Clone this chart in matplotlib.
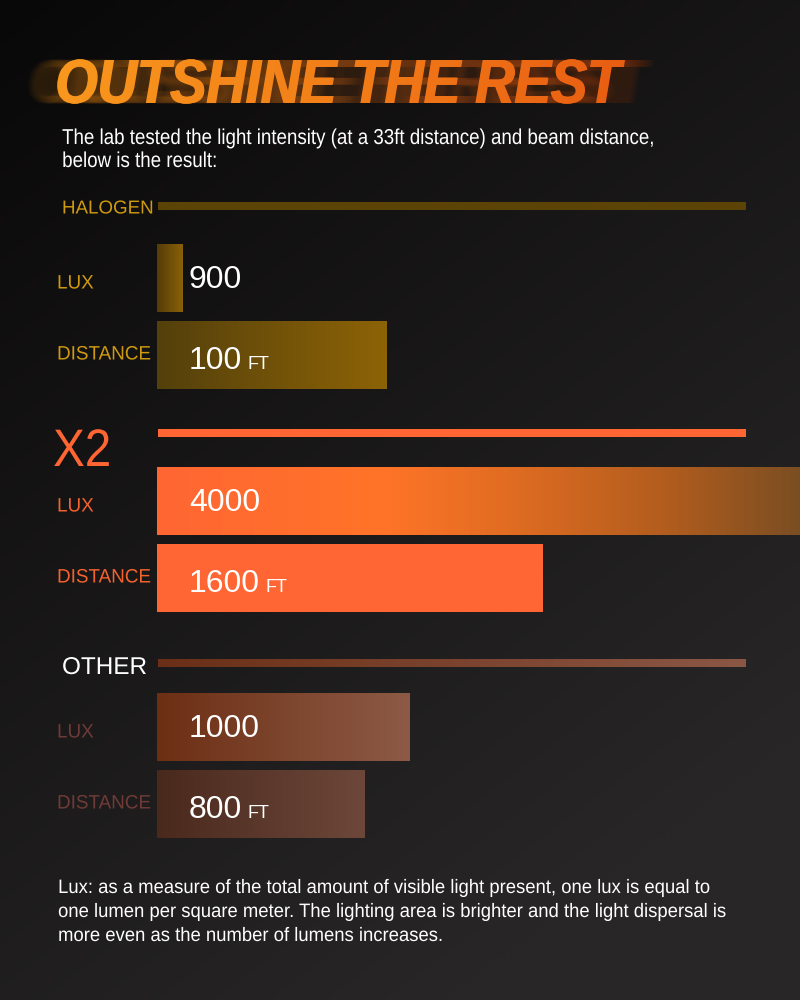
import numpy as np
import matplotlib
matplotlib.use('Agg')
import matplotlib.pyplot as plt
from matplotlib.colors import LinearSegmentedColormap, to_rgb
from matplotlib.patheffects import AbstractPathEffect
from matplotlib.transforms import Affine2D, TransformedPath

# data
sections = ['HALOGEN', 'X2', 'OTHER']
row_labels = ['LUX', 'DISTANCE']
lux = [900, 4000, 1000]
distance_ft = [100, 1600, 800]
# drawn bar lengths, as a share of the section rule
lux_bar = [0.043, 1.095, 0.43]
dist_bar = [0.39, 0.656, 0.353]

title = 'OUTSHINE THE REST'
subtitle = ['The lab tested the light intensity (at a 33ft distance) and beam distance,',
            'below is the result:']
footer = ['Lux: as a measure of the total amount of visible light present, one lux is equal to',
          'one lumen per square meter. The lighting area is brighter and the light dispersal is',
          'more even as the number of lumens increases.']

# styles
FONT = 'Liberation Sans'
head_col = ['#cf9a10', '#ff6633', 'white']
label_col = ['#cf9a10', '#f4622e', '#6e3b37']
rule_cols = [['#5c4306', '#5c4306'], ['#ff6633', '#ff6633'], ['#6b2f17', '#8b5745']]
lux_cols = [['#553c08', '#8a6108'],
            [(0, '#ff6633'), (0.35, '#ff7428'), (0.55, '#e06c22'), (0.8, '#b05c1e'), (1, '#7a4e22')],
            ['#6d2f14', '#8c5a46']]
dist_cols = [['#54400c', '#8d6306'], ['#ff6633', '#ff6633'], ['#4a291d', '#6c473a']]

rule_y = [206, 433.5, 663.5]
lux_top = [244, 467, 693]
head_y = [209, 452, 668]
head_x = [62, 53, 62]
head_size = [13.5, 38, 17.5]
head_sx = [1.0, 0.9, 1.0]
bar_x0, rule_len, bar_h, gap = 157, 588, 68, 9
label_dy = [6, 0]
value_dy = [10, 14]


def squeezed(tpath, affine, sx):
    x0 = affine.transform_path(tpath).get_extents().x0
    return affine + Affine2D().translate(-x0, 0).scale(sx, 1).translate(x0, 0)


class Squeeze(AbstractPathEffect):
    def __init__(self, sx):
        super().__init__()
        self.sx = sx

    def draw_path(self, renderer, gc, tpath, affine, rgbFace=None):
        renderer.draw_path(gc, tpath, squeezed(tpath, affine, self.sx), rgbFace)


class TitleFx(AbstractPathEffect):
    # condensed text, gradient fill and a horizontal motion streak
    def __init__(self, cmap, sx, spread=30, n=36, alpha=0.05):
        super().__init__()
        self.cmap, self.sx, self.spread, self.n, self.alpha = cmap, sx, spread, n, alpha

    def _paint(self, renderer, gc, tpath, tr, dx, x0, y0, img):
        g = renderer.new_gc()
        g.copy_properties(gc)
        g.set_clip_path(TransformedPath(tpath, tr + Affine2D().translate(dx, 0)))
        renderer.draw_image(g, x0, y0, img)
        g.restore()

    def draw_path(self, renderer, gc, tpath, affine, rgbFace=None):
        tr = squeezed(tpath, affine, self.sx)
        ext = tr.transform_path(tpath).get_extents()
        x0 = int(ext.x0 - self.spread) - 2
        y0 = int(ext.y0) - 2
        w = int(ext.width + 2 * self.spread) + 5
        h = int(ext.height) + 5
        row = self.cmap(np.linspace(0, 1, w))
        img = np.repeat(row[None], h, axis=0)
        streak = img.copy()
        streak[..., :3] *= 0.7
        streak[..., 3] = self.alpha
        streak = np.ascontiguousarray((streak * 255).astype(np.uint8))
        fill = np.ascontiguousarray((img * 255).astype(np.uint8))
        for dx in np.linspace(-self.spread, self.spread, self.n):
            self._paint(renderer, gc, tpath, tr, dx, x0, y0, streak)
        # slight horizontal embolden for the heavy display face
        for dx in (-0.9, 0.0, 0.9):
            self._paint(renderer, gc, tpath, tr, dx, x0, y0, fill)


fig = plt.figure(figsize=(8, 10), dpi=100)
ax = fig.add_axes([0, 0, 1, 1])
ax.axis('off')

# background
yy, xx = np.mgrid[0:1:200j, 0:1:160j]
t = np.clip(0.45 * xx + 0.75 * yy, 0, 1)[..., None]
c0, c1 = np.array(to_rgb('#090808')), np.array(to_rgb('#282627'))
ax.imshow(c0 + (c1 - c0) * t, extent=[0, 800, 1000, 0], aspect='auto',
          interpolation='bilinear', zorder=0)


def hbar(x0, y0, w, h, colors):
    cmap = LinearSegmentedColormap.from_list('g', colors)
    ax.imshow(np.linspace(0, 1, 256)[None, :], extent=[x0, x0 + w, y0 + h, y0],
              cmap=cmap, aspect='auto', interpolation='bilinear', zorder=2)


# title and intro
title_cmap = LinearSegmentedColormap.from_list('t', ['#f99a1e', '#f27e18', '#e85a12'])
ax.text(55, 103, title, fontsize=45, family=FONT, weight='bold', style='italic',
        color='#f07a18', va='baseline', zorder=5,
        path_effects=[TitleFx(title_cmap, 0.87)])
for i, line in enumerate(subtitle):
    ax.text(62, 144 + 23 * i, line, fontsize=15.5, family=FONT, color='white',
            va='baseline', zorder=5, path_effects=[Squeeze(0.87)])

# sections
for i, name in enumerate(sections):
    hbar(bar_x0 + 1, rule_y[i] - 4, rule_len, 8, rule_cols[i])
    ax.text(head_x[i], head_y[i], name, fontsize=head_size[i], family=FONT,
            color=head_col[i], va='center', zorder=5, path_effects=[Squeeze(head_sx[i])])

    tops = [lux_top[i], lux_top[i] + bar_h + gap]
    lens = [lux_bar[i], dist_bar[i]]
    cols = [lux_cols[i], dist_cols[i]]
    vals = [str(lux[i]), str(distance_ft[i])]
    for j in range(2):
        hbar(bar_x0, tops[j], lens[j] * rule_len, bar_h, cols[j])
        yc = tops[j] + bar_h / 2
        ax.text(57, yc + label_dy[j], row_labels[j], fontsize=14, family=FONT,
                color=label_col[i], va='center', zorder=5, path_effects=[Squeeze(0.97)])
        vt = ax.text(189, yc + value_dy[j], vals[j], fontsize=23, family=FONT,
                     color='white', va='baseline', zorder=5)
        if j == 1:
            ax.annotate('FT', xy=(1, 0), xycoords=vt, xytext=(4, 2),
                        textcoords='offset points', fontsize=13, family=FONT,
                        color='white', va='bottom', zorder=5)

for i, line in enumerate(footer):
    ax.text(58, 893 + 24 * i, line, fontsize=14, family=FONT, color='white',
            va='baseline', zorder=5, path_effects=[Squeeze(0.95)])

ax.set_xlim(0, 800)
ax.set_ylim(1000, 0)
fig.savefig('out.png', dpi=100, facecolor='#0b0a0a')
